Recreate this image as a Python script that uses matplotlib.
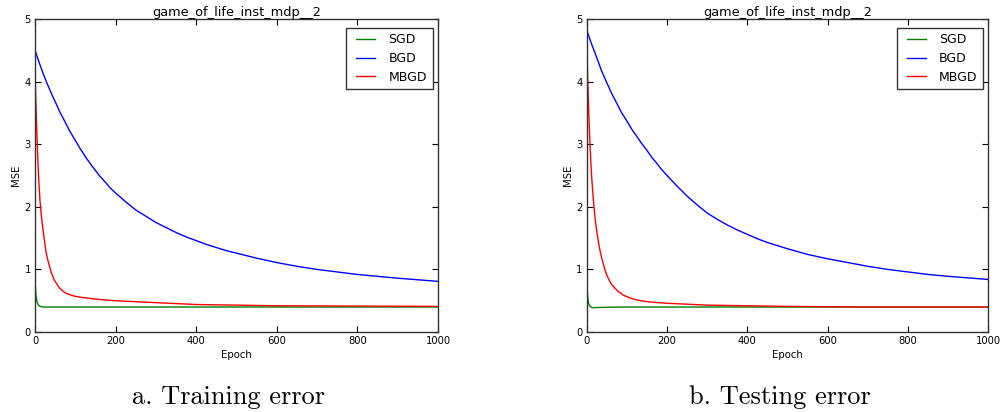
import matplotlib
matplotlib.use("Agg")
import matplotlib.pyplot as plt
from matplotlib.legend_handler import HandlerLine2D

# ---- Training error (left panel)
train_sgd_epoch = [0, 1, 2, 3, 5, 7, 10, 15, 20, 30, 50, 100, 300, 600, 1000]
train_sgd_mse = [0.88, 0.72, 0.62, 0.55, 0.48, 0.45, 0.42, 0.405, 0.40, 0.40, 0.40, 0.40, 0.40, 0.40, 0.40]

train_bgd_epoch = [0, 10, 20, 30, 40, 50, 62, 75, 87, 100, 112, 125, 137, 150, 162, 175, 187, 200,
                   225, 250, 275, 300, 325, 350, 375, 400, 425, 450, 475, 500, 550, 600, 650, 700,
                   750, 800, 850, 900, 950, 1000]
train_bgd_mse = [4.5, 4.31, 4.13, 3.97, 3.82, 3.68, 3.51, 3.35, 3.2, 3.06, 2.93, 2.80, 2.69, 2.58, 2.48,
                 2.39, 2.30, 2.22, 2.08, 1.95, 1.85, 1.75, 1.67, 1.59, 1.52, 1.46, 1.40, 1.35, 1.30, 1.26,
                 1.18, 1.11, 1.05, 1.00, 0.96, 0.92, 0.89, 0.86, 0.835, 0.81]

train_mbgd_epoch = [0, 1, 2, 3, 4, 6, 8, 10, 12, 14, 16, 18, 20, 23, 27, 31, 36, 40, 44, 48, 52, 56, 60,
                    65, 70, 77, 85, 92, 100, 110, 120, 140, 160, 200, 250, 300, 350, 400, 500, 600, 800, 1000]
train_mbgd_mse = [4.2, 3.95, 3.7, 3.5, 3.3, 2.92, 2.6, 2.35, 2.13, 1.98, 1.85, 1.73, 1.63, 1.48, 1.29, 1.17,
                  1.05, 0.96, 0.89, 0.83, 0.79, 0.75, 0.71, 0.68, 0.65, 0.62, 0.60, 0.585, 0.57, 0.56, 0.55,
                  0.535, 0.52, 0.50, 0.485, 0.47, 0.455, 0.44, 0.43, 0.42, 0.415, 0.41]

# ---- Testing error (right panel)
test_sgd_epoch = [0, 1, 2, 3, 5, 7, 10, 15, 20, 30, 60, 100, 300, 600, 1000]
test_sgd_mse = [0.9, 0.72, 0.6, 0.52, 0.45, 0.42, 0.40, 0.39, 0.39, 0.393, 0.397, 0.40, 0.40, 0.40, 0.40]

test_bgd_epoch = [0, 12, 25, 37, 50, 62, 75, 87, 100, 112, 125, 137, 150, 162, 175, 187, 200, 225, 250,
                  275, 300, 325, 350, 375, 400, 425, 450, 475, 500, 550, 600, 650, 700, 750, 800, 850,
                  900, 950, 1000]
test_bgd_mse = [4.82, 4.6, 4.38, 4.17, 3.98, 3.81, 3.65, 3.50, 3.37, 3.24, 3.12, 3.01, 2.90, 2.79, 2.69,
                2.59, 2.50, 2.33, 2.17, 2.03, 1.90, 1.80, 1.71, 1.63, 1.56, 1.49, 1.43, 1.38, 1.33, 1.24,
                1.17, 1.11, 1.05, 1.00, 0.96, 0.92, 0.89, 0.865, 0.84]

test_mbgd_epoch = [0, 1, 2.5, 4, 5, 6.5, 8, 10, 12, 15, 18, 21, 25, 29, 33, 39, 45, 50, 55, 60, 66, 72,
                   78, 85, 91, 100, 110, 120, 135, 157, 200, 250, 300, 400, 500, 700, 1000]
test_mbgd_mse = [4.7, 4.4, 4.0, 3.72, 3.5, 3.25, 3.0, 2.74, 2.5, 2.23, 2.0, 1.8, 1.6, 1.44, 1.3, 1.14, 1.0,
                 0.91, 0.84, 0.78, 0.73, 0.69, 0.65, 0.62, 0.59, 0.565, 0.54, 0.52, 0.50, 0.48, 0.46,
                 0.445, 0.43, 0.42, 0.41, 0.40, 0.40]

panel_title = "game_of_life_inst_mdp__2"
captions = ["a. Training error", "b. Testing error"]

fig = plt.figure(figsize=(10.03, 4.12), dpi=100, facecolor="white")
ax_train = fig.add_axes([0.0349, 0.194, 0.4018, 0.760])
ax_test = fig.add_axes([0.585, 0.194, 0.4004, 0.760])

panels = [
    (ax_train, train_sgd_epoch, train_sgd_mse, train_bgd_epoch, train_bgd_mse, train_mbgd_epoch, train_mbgd_mse),
    (ax_test, test_sgd_epoch, test_sgd_mse, test_bgd_epoch, test_bgd_mse, test_mbgd_epoch, test_mbgd_mse),
]

for ax, se, sm, be, bm, me, mm in panels:
    ax.plot(se, sm, color=(0, 0.5, 0), lw=1, label="SGD")
    ax.plot(be, bm, color=(0, 0, 1), lw=1, label="BGD")
    ax.plot(me, mm, color=(1, 0, 0), lw=1, label="MBGD")
    ax.set_xlim(0, 1000)
    ax.set_ylim(0, 5)
    ax.set_xticks([0, 200, 400, 600, 800, 1000])
    ax.set_yticks([0, 1, 2, 3, 4, 5])
    ax.tick_params(direction="in", top=True, right=True, length=4, width=0.8, labelsize=7.2, pad=3)
    for sp in ax.spines.values():
        sp.set_linewidth(1)
        sp.set_color("#333333")
    ax.set_title(panel_title, fontsize=9.3, pad=1.8)
    ax.set_xlabel("Epoch", fontsize=7.3, labelpad=3)
    ax.set_ylabel("MSE", fontsize=7.3, labelpad=2.5)
    # legend box sits a bit below the top spine, handles inset from the frame
    leg = ax.legend(loc="upper right", bbox_to_anchor=(1 - 5.5 / 403, 1 - 8.7 / 313), borderaxespad=0,
                    fontsize=9, handlelength=1.87, handletextpad=1.05, borderpad=0.45,
                    fancybox=False, framealpha=1, labelspacing=0.45,
                    handler_map={plt.Line2D: HandlerLine2D(xpad=0.35)})
    leg.get_frame().set_edgecolor("#333333")
    leg.get_frame().set_linewidth(1)

# captions under each panel
fig.text(229 / 1003, 1 - 397 / 412, captions[0], family="cmr10", fontsize=19, ha="center", va="center")
fig.text(780 / 1003, 1 - 397 / 412, captions[1], family="cmr10", fontsize=19, ha="center", va="center")

fig.savefig("out.png", dpi=100, facecolor="white")
